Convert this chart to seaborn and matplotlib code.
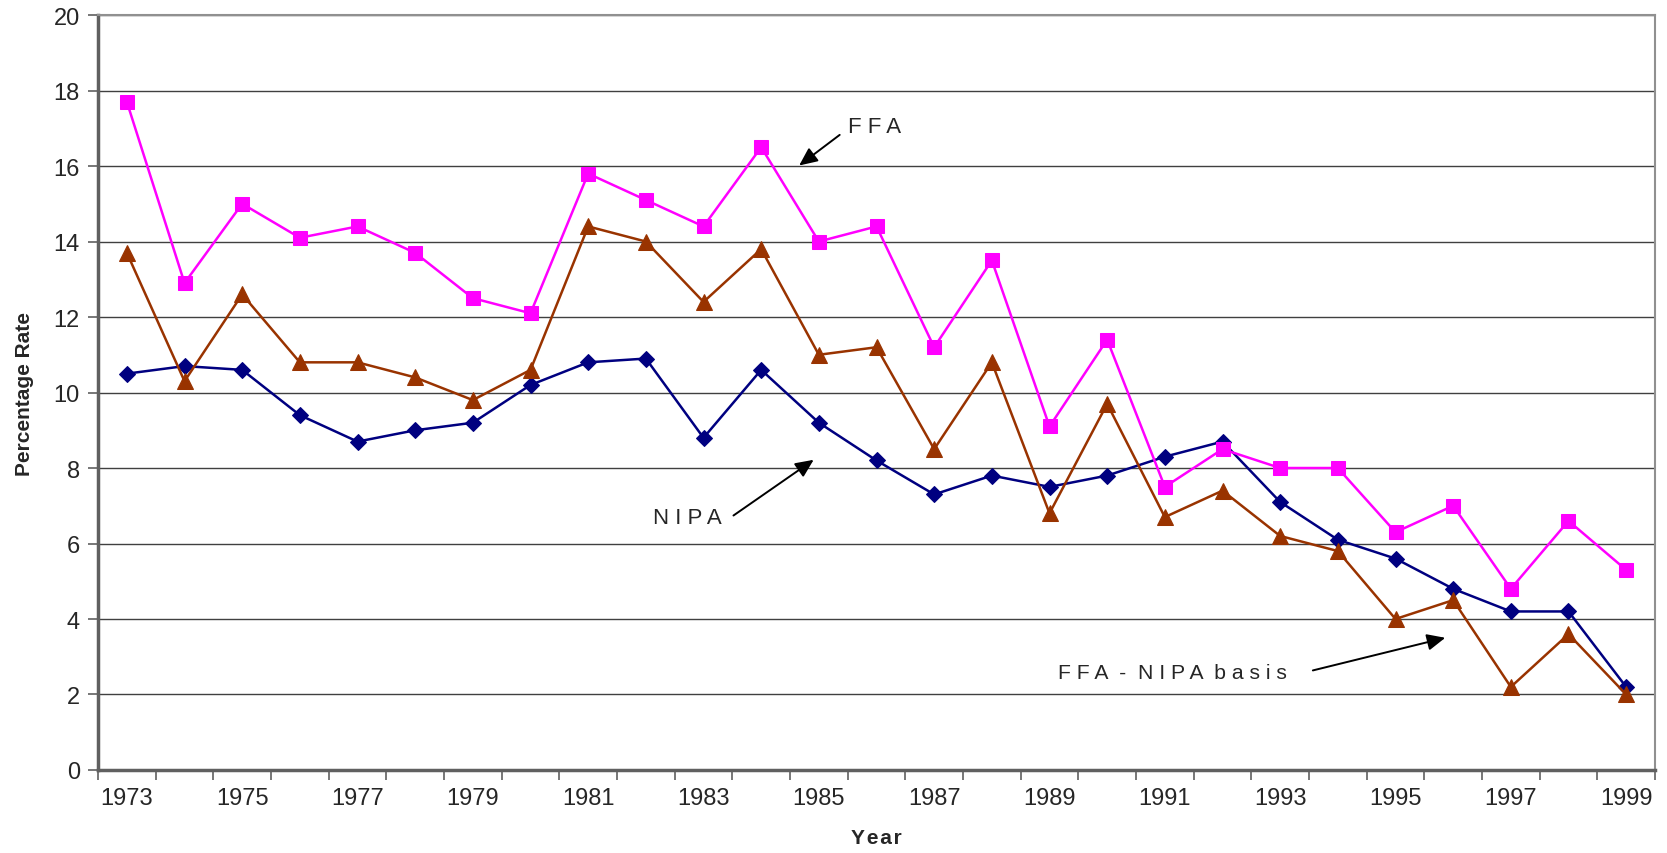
import matplotlib
matplotlib.use("Agg")
import matplotlib.pyplot as plt
import seaborn as sns
import pandas as pd
from matplotlib.ticker import FixedLocator

years = list(range(1973, 2000))

ffa = [17.7, 12.9, 15.0, 14.1, 14.4, 13.7, 12.5, 12.1, 15.8, 15.1, 14.4, 16.5, 14.0, 14.4,
       11.2, 13.5, 9.1, 11.4, 7.5, 8.5, 8.0, 8.0, 6.3, 7.0, 4.8, 6.6, 5.3]
nipa = [10.5, 10.7, 10.6, 9.4, 8.7, 9.0, 9.2, 10.2, 10.8, 10.9, 8.8, 10.6, 9.2, 8.2,
        7.3, 7.8, 7.5, 7.8, 8.3, 8.7, 7.1, 6.1, 5.6, 4.8, 4.2, 4.2, 2.2]
ffa_nipa = [13.7, 10.3, 12.6, 10.8, 10.8, 10.4, 9.8, 10.6, 14.4, 14.0, 12.4, 13.8, 11.0, 11.2,
            8.5, 10.8, 6.8, 9.7, 6.7, 7.4, 6.2, 5.8, 4.0, 4.5, 2.2, 3.6, 2.0]

yticks = [0, 2, 4, 6, 8, 10, 12, 14, 16, 18, 20]
xlabels = [y for y in years if y % 2 == 1]

sns.set_style("white")
plt.rcParams['font.family'] = ['Liberation Sans', 'DejaVu Sans']

df = pd.DataFrame({"Year": years, "FFA": ffa, "NIPA": nipa, "FFA - NIPA basis": ffa_nipa})

fig = plt.figure(figsize=(16.67, 8.54), dpi=100)
ax = fig.add_axes([0.0588, 0.0972, 0.934, 0.884])

sns.lineplot(data=df, x="Year", y="NIPA", ax=ax, color="#000080", marker="D",
             markersize=8, markeredgecolor="#000080", linewidth=1.8)
sns.lineplot(data=df, x="Year", y="FFA - NIPA basis", ax=ax, color="#993300", marker="^",
             markersize=11, markeredgecolor="#993300", linewidth=1.8)
sns.lineplot(data=df, x="Year", y="FFA", ax=ax, color="#FF00FF", marker="s",
             markersize=10, markeredgecolor="#FF00FF", linewidth=1.8)

ax.set_xlim(1972.5, 1999.5)
ax.set_ylim(0, 20)
ax.set_yticks(yticks)
ax.yaxis.grid(True, color="#404040", linewidth=1.0)
ax.set_axisbelow(True)

ax.xaxis.set_major_locator(FixedLocator(xlabels))
ax.set_xticklabels([str(y) for y in xlabels])
ax.xaxis.set_minor_locator(FixedLocator([y + 0.5 for y in range(1972, 2000)]))
ax.tick_params(axis="x", which="major", length=0, pad=12, labelsize=17)
ax.tick_params(axis="x", which="minor", length=7, width=1.2, color="#606060", direction="out")
ax.tick_params(axis="y", which="major", length=7, width=1.2, color="#606060", labelsize=17, pad=6)
ax.tick_params(bottom=True, left=True, which="both")

for side in ["left", "bottom"]:
    ax.spines[side].set_color("#606060")
    ax.spines[side].set_linewidth(2.5)
for side in ["top", "right"]:
    ax.spines[side].set_color("#909090")
    ax.spines[side].set_linewidth(1.5)

ax.set_xlabel("Y\u200ae\u200aa\u200ar", fontsize=15, fontweight="bold", labelpad=14)
ax.set_ylabel("Percentage Rate", fontsize=15, fontweight="bold", labelpad=14)

arrow = dict(arrowstyle="-|>,head_length=1.1,head_width=0.5", color="black", lw=1.4)
ax.annotate("", xy=(1984.62, 15.97), xytext=(1985.4, 16.87), arrowprops=arrow)
ax.text(1985.5, 17.06, "F F A", fontsize=16, va="center", ha="left")
ax.annotate("", xy=(1984.95, 8.26), xytext=(1983.48, 6.70), arrowprops=arrow)
ax.text(1982.72, 6.68, "N I P A", fontsize=16, va="center", ha="center")
ax.annotate("", xy=(1995.91, 3.52), xytext=(1993.52, 2.62), arrowprops=arrow)
ax.text(1989.15, 2.57, "F F A  -  N I P A  b a s i s", fontsize=15.2, va="center", ha="left")

fig.savefig("out.png", dpi=100)
